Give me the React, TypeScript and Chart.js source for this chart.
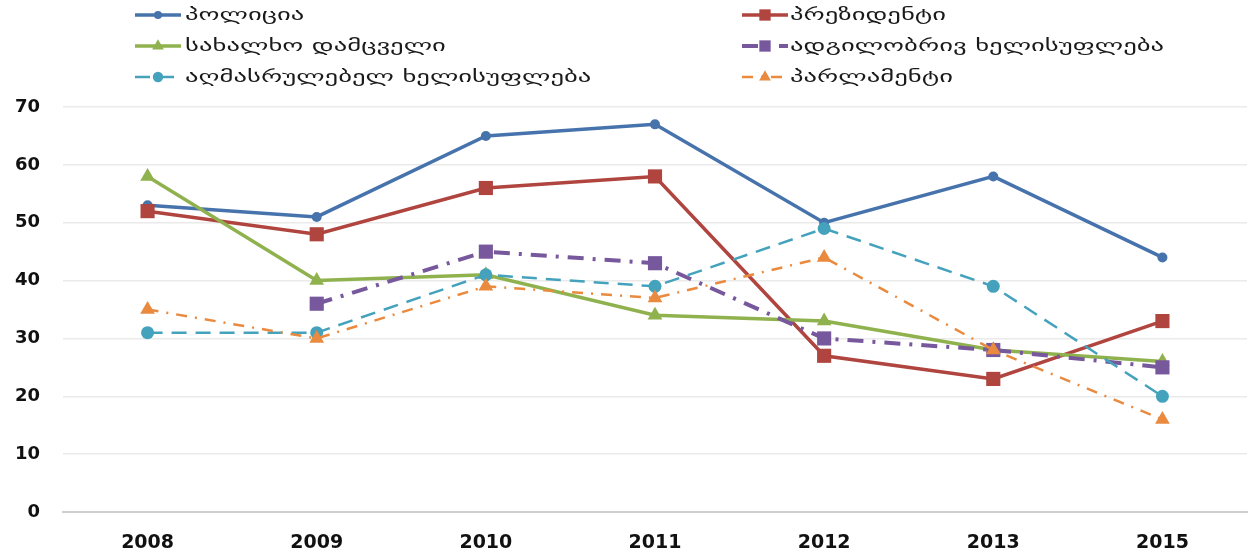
import React, { useEffect, useRef } from "react";
import { Chart, registerables } from "chart.js";
Chart.register(...registerables);

const years = ["2008", "2009", "2010", "2011", "2012", "2013", "2015"];
const seriesNames = [
  "პოლიცია",
  "პრეზიდენტი",
  "სახალხო დამცველი",
  "ადგილობრივ ხელისუფლება",
  "აღმასრულებელ ხელისუფლება",
  "პარლამენტი",
];
const police = [53, 51, 65, 67, 50, 58, 44];
const president = [52, 48, 56, 58, 27, 23, 33];
const ombudsman = [58, 40, 41, 34, 33, 28, 26];
const localGov = [null, 36, 45, 43, 30, 28, 25];
const executive = [31, 31, 41, 39, 49, 39, 20];
const parliament = [35, 30, 39, 37, 44, 28, 16];

const seriesValues = [police, president, ombudsman, localGov, executive, parliament];
const colors = ["#4773AD", "#B0443F", "#8FB24E", "#77589C", "#45A2BD", "#E98A3F"];
const pointStyles = ["circle", "rect", "triangle", "rect", "circle", "triangle"];
const radii = [5, 10, 8.5, 10, 6.5, 8.5];
const widths = [3.5, 3.5, 3.5, 4, 2.5, 2.5];
const dashes: number[][] = [[], [], [], [16, 9, 3, 9], [15, 9], [11, 8, 2, 8]];

function drawMarker(ctx: CanvasRenderingContext2D, style: string, x: number, y: number, r: number) {
  ctx.beginPath();
  if (style === "circle") {
    ctx.arc(x, y, r, 0, Math.PI * 2);
  } else if (style === "rect") {
    const s = Math.SQRT1_2 * r;
    ctx.rect(x - s, y - s, 2 * s, 2 * s);
  } else {
    const w = (r * Math.sqrt(3)) / 2;
    ctx.moveTo(x, y - r);
    ctx.lineTo(x + w, y + r / 2);
    ctx.lineTo(x - w, y + r / 2);
    ctx.closePath();
  }
  ctx.fill();
}

const legendPlugin = {
  id: "customLegend",
  afterDraw(chart: any) {
    const ctx: CanvasRenderingContext2D = chart.ctx;
    ctx.save();
    seriesNames.forEach((name, i) => {
      const col = i % 2;
      const row = Math.floor(i / 2);
      const x0 = col === 0 ? 135 : 742;
      const textX = col === 0 ? 185 : 790;
      const y = 15 + row * 31;
      const len = 46;
      ctx.strokeStyle = colors[i];
      ctx.fillStyle = colors[i];
      ctx.lineWidth = widths[i];
      ctx.setLineDash(dashes[i]);
      ctx.beginPath();
      ctx.moveTo(x0, y);
      ctx.lineTo(x0 + len, y);
      ctx.stroke();
      ctx.setLineDash([]);
      drawMarker(ctx, pointStyles[i], x0 + len / 2, y, radii[i] * 0.8);
      ctx.save();
      ctx.translate(textX, y);
      ctx.scale(1.57, 1);
      ctx.fillStyle = "#1a1a1a";
      ctx.font = "17px 'DejaVu Sans'";
      ctx.textBaseline = "middle";
      ctx.textAlign = "left";
      ctx.fillText(name, 0, 1);
      ctx.restore();
    });
    ctx.restore();
  },
};

export default function App() {
  const ref = useRef<HTMLCanvasElement | null>(null);
  useEffect(() => {
    document.body.style.margin = "0";
    const canvas = ref.current;
    if (!canvas) return;
    const datasets = seriesNames.map((name, i) => ({
      label: name,
      data: seriesValues[i],
      borderColor: colors[i],
      backgroundColor: colors[i],
      borderWidth: widths[i],
      borderDash: dashes[i],
      pointStyle: pointStyles[i],
      pointRadius: radii[i],
      pointBorderWidth: 0,
      pointBackgroundColor: colors[i],
      tension: 0,
      order: 5 - i,
    }));
    const chart = new Chart(canvas, {
      type: "line",
      data: { labels: years, datasets },
      plugins: [legendPlugin],
      options: {
        animation: false,
        responsive: false,
        devicePixelRatio: 1,
        layout: { autoPadding: false, padding: { top: 107, left: 14, right: 2, bottom: 0 } },
        plugins: { legend: { display: false }, tooltip: { enabled: false } },
        scales: {
          x: {
            offset: true,
            grid: { display: false, drawTicks: false },
            border: { display: true, color: "#cfcfcf", width: 2 },
            ticks: {
              color: "#111",
              font: { family: "'DejaVu Sans'", size: 19, weight: "bold" },
              padding: 20,
            },
            afterFit: (s: any) => {
              s.height = 42;
              s.paddingLeft = 0;
              s.paddingRight = 0;
            },
          },
          y: {
            min: 0,
            max: 70,
            grid: { color: "#eaeaea", lineWidth: 1.5, drawTicks: false },
            border: { display: false },
            ticks: {
              stepSize: 10,
              color: "#111",
              font: { family: "'DejaVu Sans'", size: 18, weight: "bold" },
              padding: 23,
            },
            afterFit: (s: any) => {
              s.width = 49;
            },
          },
        },
      },
    } as any);
    return () => chart.destroy();
  }, []);
  return (
    <div style={{ width: 1249, height: 554 }}>
      <canvas ref={ref} width={1249} height={554} style={{ display: "block" }} />
    </div>
  );
}
